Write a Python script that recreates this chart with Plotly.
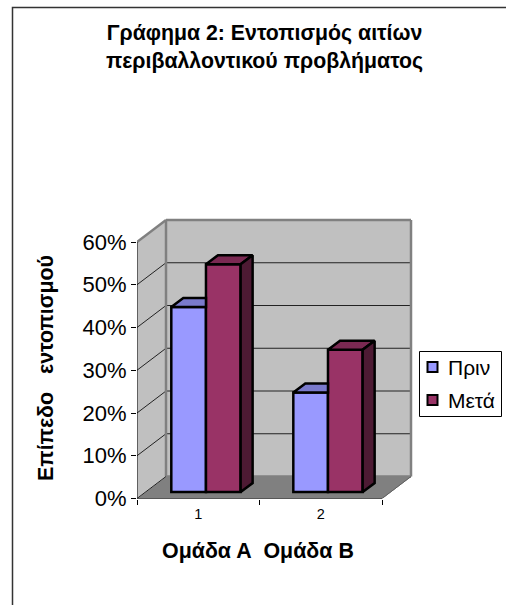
import plotly.graph_objects as go

# Chart content
title_lines = ["Γράφημα 2: Εντοπισμός αιτίων", "περιβαλλοντικού προβλήματος"]
categories = ["1", "2"]
series_names = ["Πριν", "Μετά"]
before = [0.433, 0.233]
after = [0.533, 0.333]
y_ticks = [0, 0.1, 0.2, 0.3, 0.4, 0.5, 0.6]
x_title = "Ομάδα Α&nbsp;&nbsp;Ομάδα Β"
y_title = "Επίπεδο&nbsp;&nbsp;&nbsp;εντοπισμού"

# Colours
WALL = "#C0C0C0"
FLOOR = "#808080"
EDGE = "#808080"
BLUE, BLUE_TOP = "#9999FF", "#7A7ACC"
RED, RED_TOP, RED_SIDE = "#993366", "#7A2952", "#4D1A33"

# Page geometry in pixels
W, H = 506, 605
X0, X_UNIT = 137, 122.5      # pixel of category edge 0, pixels per category
Y0, Y_UNIT = 498.5, 427.5    # pixel of 0 %, pixels per 100 %
RIGHT, TOP = 415, 215        # extent of the plotting area

x_max = (RIGHT - X0) / X_UNIT
y_max = (Y0 - TOP) / Y_UNIT

# Depth of the box and of the bars, in axis units
DX, DY = 29 / X_UNIT, 22 / Y_UNIT
BAR_DX, BAR_DY = 12 / X_UNIT, 9 / Y_UNIT
FLOOR_BASE = 6.5 / Y_UNIT
BAR_W = 0.283
CENTRES = [0.563, 1.559]


def px(x):
    return x / W


def py(y):
    return 1 - y / H


def poly(xs, ys, fill, line=None, width=1):
    return dict(type="path", layer="below", xref="x", yref="y",
                path="M" + " L".join(f"{x},{y}" for x, y in zip(xs, ys)) + " Z",
                fillcolor=fill, line=dict(color=line or fill, width=width))


def seg(x0, y0, x1, y1, color, width):
    return dict(type="line", layer="below", xref="x", yref="y",
                x0=x0, y0=y0, x1=x1, y1=y1, line=dict(color=color, width=width))


def box(x0, y0, x1, y1, fill, line, width):
    return dict(type="rect", xref="paper", yref="paper", layer="above",
                x0=px(x0), x1=px(x1), y0=py(y1), y1=py(y0),
                fillcolor=fill, line=dict(color=line, width=width))


top_y = y_ticks[-1]
shapes = [
    # outer frame of the page
    dict(type="rect", xref="paper", yref="paper", layer="below",
         x0=px(12.5), x1=px(W + 20), y0=py(H + 20), y1=py(7.5),
         line=dict(color="#333333", width=1.5)),
    # floor, side wall, back wall
    poly([0, 2, 2 + DX, DX], [0, 0, DY, DY], FLOOR),
    poly([0, 0, DX, DX], [0, top_y, top_y + DY, DY], WALL),
    poly([DX, 2 + DX, 2 + DX, DX], [DY, DY, top_y + DY, top_y + DY], WALL),
]
for t in y_ticks[1:-1]:
    shapes.append(seg(DX, t + DY, 2 + DX, t + DY, "#222222", 1))
    shapes.append(seg(0, t, DX, t + DY, "#222222", 1))
shapes += [
    seg(DX, DY, DX, top_y + DY, EDGE, 2.5),
    seg(DX, top_y + DY, 2 + DX, top_y + DY, EDGE, 2.5),
    seg(2 + DX, DY, 2 + DX, top_y + DY, EDGE, 2.5),
    seg(DX, DY, 2 + DX, DY, EDGE, 2.5),
    seg(0, top_y, DX, top_y + DY, EDGE, 2.5),
    seg(0, 0, DX, DY, "#222222", 1),
    seg(2, 0, 2 + DX, DY, "#606060", 1),
    seg(0, 0, 0, top_y, "#000000", 1),
    seg(0, 0, 2, 0, "#000000", 1),
    # legend box and its colour keys
    box(419.5, 351.5, 501.5, 416.5, "white", "black", 1),
    box(427.5, 362, 437.5, 372, BLUE, "black", 2),
    box(427.5, 395, 437.5, 405, RED, "black", 2),
]

annotations = [
    dict(text=series_names[0], xref="paper", yref="paper", x=px(446), y=py(367),
         xanchor="left", yanchor="middle", showarrow=False, font=dict(size=21)),
    dict(text=series_names[1], xref="paper", yref="paper", x=px(446), y=py(400),
         xanchor="left", yanchor="middle", showarrow=False, font=dict(size=21)),
    # axis titles sit off-centre from the plotting area
    dict(text="<b>" + x_title + "</b>", xref="paper", yref="paper", x=px(258), y=py(551),
         xanchor="center", yanchor="middle", showarrow=False, font=dict(size=21.4)),
    dict(text="<b>" + y_title + "</b>", xref="paper", yref="paper", x=px(46), y=py(368),
         xanchor="center", yanchor="middle", showarrow=False, textangle=-90,
         font=dict(size=21.4)),
]

fig = go.Figure()

# Front faces of the two bar series
for name, vals, color, offset in [(series_names[0], before, BLUE, -BAR_W),
                                  (series_names[1], after, RED, 0)]:
    fig.add_trace(go.Bar(
        name=name, x=CENTRES, y=vals, base=[FLOOR_BASE] * len(vals),
        width=BAR_W, offset=offset, showlegend=False,
        marker=dict(color=color, line=dict(color="black", width=2.5)),
    ))


def face(xs, ys, fill):
    fig.add_trace(go.Scatter(x=xs, y=ys, mode="lines", fill="toself", fillcolor=fill,
                             line=dict(color="black", width=2.5), showlegend=False,
                             hoverinfo="skip"))


# Top and side faces derived from each bar's value
for c, b, a in zip(CENTRES, before, after):
    yb = b + FLOOR_BASE
    ya = a + FLOOR_BASE
    # the front series' top runs behind the neighbouring bar
    face([c - BAR_W, c, c, c - BAR_W + BAR_DX, c - BAR_W],
         [yb, yb, yb + BAR_DY, yb + BAR_DY, yb], BLUE_TOP)
    face([c, c + BAR_W, c + BAR_W + BAR_DX, c + BAR_DX, c],
         [ya, ya, ya + BAR_DY, ya + BAR_DY, ya], RED_TOP)
    face([c + BAR_W, c + BAR_W + BAR_DX, c + BAR_W + BAR_DX, c + BAR_W, c + BAR_W],
         [FLOOR_BASE, FLOOR_BASE + BAR_DY, ya + BAR_DY, ya, FLOOR_BASE], RED_SIDE)

fig.update_layout(
    width=W, height=H, autosize=False,
    margin=dict(l=0, r=0, t=0, b=0),
    paper_bgcolor="white", plot_bgcolor="rgba(0,0,0,0)",
    font=dict(family="Liberation Sans, Arial, sans-serif", color="black"),
    barmode="overlay", shapes=shapes, annotations=annotations,
    hovermode=False, showlegend=False,
    title=dict(text="<b>" + "<br>".join(title_lines) + "</b>", x=264.5 / W, xanchor="center",
               y=py(40), yanchor="middle", font=dict(size=21.3)),
    xaxis=dict(domain=[px(X0), px(RIGHT)], range=[0, x_max], showgrid=False, zeroline=False,
               showline=False, tickvals=[0.5, 1.5], ticktext=categories, automargin=False,
               ticks="", tickfont=dict(size=14.5), ticklabelstandoff=5,
               minor=dict(tickvals=[0, 1, 2], ticks="outside", ticklen=5,
                          tickcolor="black", tickwidth=1)),
    yaxis=dict(domain=[py(Y0), py(TOP)], range=[0, y_max], showgrid=False, zeroline=False,
               showline=False, tickvals=y_ticks, tickformat=".0%", automargin=False,
               ticks="outside", ticklen=5, tickcolor="black", tickwidth=1,
               tickfont=dict(size=22)),
)

fig.write_html("out.html")
